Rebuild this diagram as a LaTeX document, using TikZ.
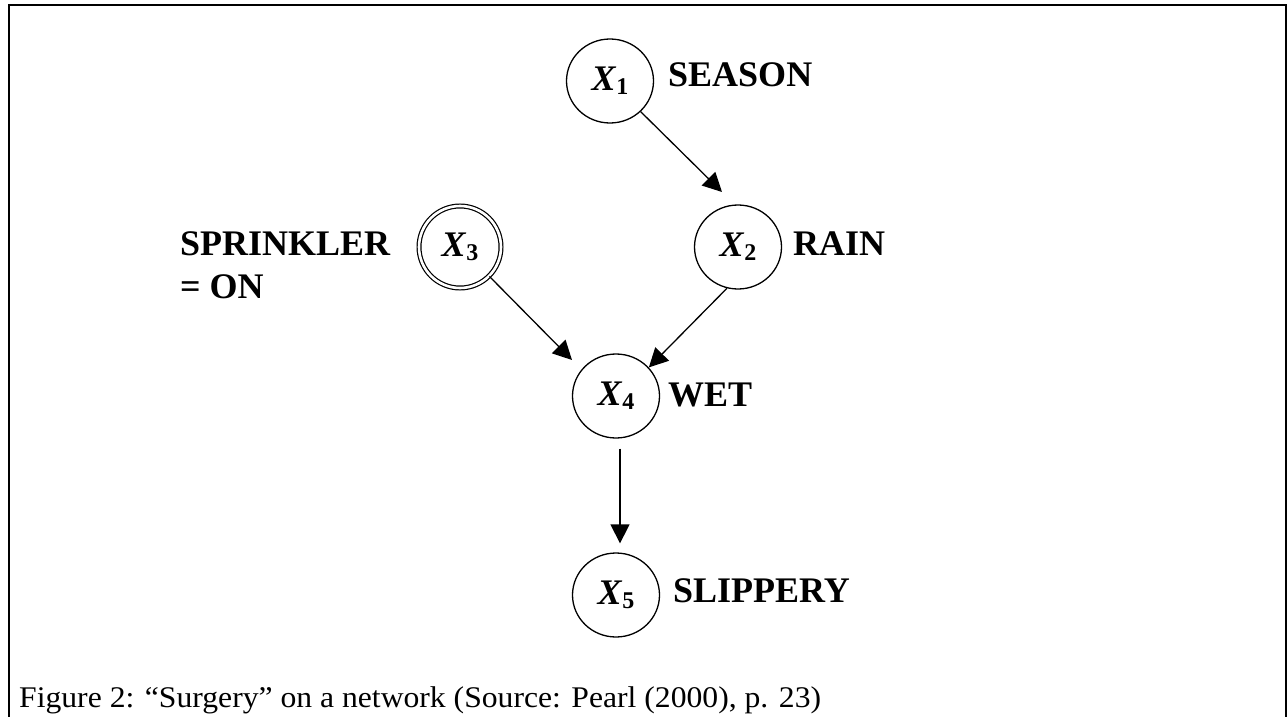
\documentclass[tikz,border=0pt]{standalone}
\usepackage{fontspec}
\setmainfont{Liberation Serif}
\usetikzlibrary{arrows.meta,shapes.geometric,calc}
\newcommand{\xvar}[1]{\textbf{\textit{X}}\raisebox{-4pt}{\fontsize{24}{24}\selectfont\textbf{#1}}}
\tikzset{
  var/.style={draw, ellipse, line width=1.3pt, minimum width=87pt, minimum height=84pt, inner sep=0pt,
              font=\fontsize{36}{36}\selectfont},
  dvar/.style={draw, circle, line width=1.2pt, double, double distance=2.6pt, minimum size=82pt, inner sep=0pt,
              font=\fontsize{36}{36}\selectfont},
  lbl/.style={anchor=base west, inner sep=0pt, font=\fontsize{36}{43}\selectfont\bfseries, align=left},
  edge/.style={line width=1.3pt, -{Triangle[length=19pt,width=19pt]}},
  frame/.style={line width=2pt}
}
\begin{document}
\begin{tikzpicture}[x=1pt,y=-1pt]
\useasboundingbox (0,0) rectangle (1288,717);
\draw[frame] (9,717) -- (9,5) -- (1286,5) -- (1286,717);
% nodes
\node[var] (X1) at (610,81) {\xvar{1}};
\node[var] (X2) at (738,247) {\xvar{2}};
\node[dvar] (X3) at (460,247) {\xvar{3}};
\node[var] (X4) at (616,396) {\xvar{4}};
\node[var] (X5) at (616,595) {\xvar{5}};
% labels
\node[lbl] (L1) at (668,87) {SEASON};
\node[lbl] (L2) at (793,255) {RAIN};
\node[lbl] (L3) at (180,298) {SPRINKLER\\= ON};
\node[lbl] (L4) at (668,406) {WET};
\node[lbl] (L5) at (673,602) {SLIPPERY};
% free ends
\coordinate (t12) at (722,192);
\coordinate (t34) at (572,360);
% edges
\draw[edge] (X1.-45) -- (t12);
\draw[edge] (X3.-45) -- (t34);
\draw[edge] (X2.-105) -- (X4.41);
\draw[edge] ([xshift=4pt,yshift=-10pt]X4.south) -- ([xshift=4pt,yshift=9pt]X5.north);
% caption
\node[anchor=base west, inner sep=0pt, font=\fontsize{30}{36}\selectfont] (cap) at (19,707)
  {\scalebox{1.055}[1]{Figure 2: “Surgery” on a network (Source: Pearl (2000), p. 23)}};
\end{tikzpicture}
\end{document}
